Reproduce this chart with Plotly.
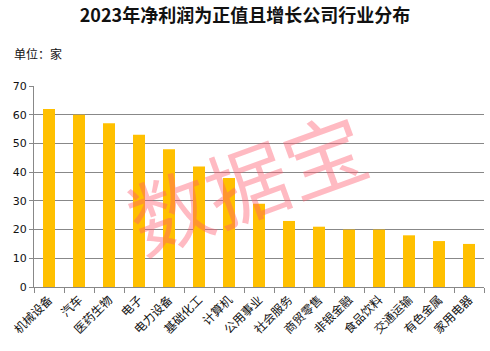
import plotly.graph_objects as go

categories = ["机械设备", "汽车", "医药生物", "电子", "电力设备", "基础化工", "计算机",
              "公用事业", "社会服务", "商贸零售", "非银金融", "食品饮料", "交通运输", "有色金属", "家用电器"]
values = [62, 60, 57, 53, 48, 42, 38, 29, 23, 21, 20, 20, 18, 16, 15]
y_ticks = [0, 10, 20, 30, 40, 50, 60, 70]

fig = go.Figure(go.Bar(x=categories, y=values, marker_color="#FFC000", marker_line_width=0))

fig.update_layout(
    width=490, height=351,
    margin=dict(l=34, r=6, t=86, b=64),
    paper_bgcolor="white", plot_bgcolor="white",
    bargap=0.6,
    showlegend=False,
    font=dict(family="DejaVu Sans, Noto Sans CJK SC", size=11, color="#111"),
    title=dict(text="<b>2023年净利润为正值且增长公司行业分布</b>", x=0.5, xanchor="center",
               y=0.955, yanchor="middle",
               font=dict(family="Noto Sans CJK SC", size=18, color="#111")),
    annotations=[
        dict(text="单位：家", xref="paper", yref="paper", x=-0.05, y=1.16, xanchor="left",
             yanchor="middle", showarrow=False,
             font=dict(family="Noto Sans CJK SC", size=12, color="#111")),
        dict(text="数据宝", xref="paper", yref="paper", x=0.47, y=0.53, showarrow=False,
             textangle=-20, font=dict(family="Noto Sans CJK SC", size=82, color="rgba(255,90,110,0.42)")),
    ],
)
fig.update_xaxes(
    showline=True, linecolor="#888", linewidth=1,
    ticks="outside", ticklen=5, tickcolor="#888", tickson="boundaries",
    tickangle=-45, tickfont=dict(family="Noto Sans CJK SC", size=12, color="#111"),
)
fig.update_yaxes(
    range=[0, 70], tickvals=y_ticks, showgrid=True, gridcolor="#888", gridwidth=1,
    showline=True, linecolor="#888", ticks="outside", ticklen=4, tickcolor="#888",
    tickfont=dict(family="DejaVu Sans", size=11, color="#111"), zeroline=False,
)

fig.write_html("out.html")
